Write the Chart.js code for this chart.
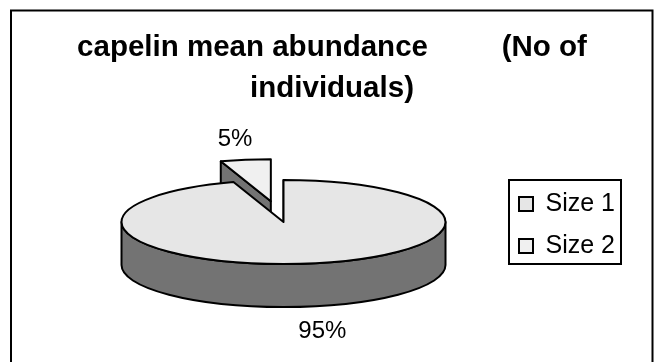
<!DOCTYPE html>
<html>
<head>
<meta charset="utf-8">
<style>
  html, body { margin: 0; padding: 0; background: #fff; }
  #wrap { width: 654px; height: 362px; position: relative; }
</style>
<script src="https://cdn.jsdelivr.net/npm/chart.js@4"></script>
</head>
<body>
<div id="wrap"><canvas id="chart"></canvas></div>
<script>
const categories = ['Size 1', 'Size 2'];
const abundance = [95, 5];
const explode = [0, 0.5];
const sliceColors = ['#e6e6e6', '#f0f0f0'];
const wallColor = '#737373';
const titleLines = ['capelin mean abundance         (No of', 'individuals)'];

// Flattened disc proportions, applied to the arcs Chart.js lays out.
const DISC = { squash: 42 / 162, depth: 43 };
const LABEL_NUDGE = [[13.5, 25], [-10.5, -20]];
const FRAME = { left: 11, top: 10.5, right: 652.5, bottom: 366 };
const LEGEND_BOX = { left: 509, top: 180, width: 112, height: 84 };
const LEGEND_SHIFT = 44;
const FONT = 'Arial, "Liberation Sans", sans-serif';

function sliceGeometry(arc, i) {
  const rx = arc.outerRadius;
  const ry = rx * DISC.squash;
  const mid = (arc.startAngle + arc.endAngle) / 2;
  return {
    rx, ry,
    cx: arc.x + Math.cos(mid) * rx * explode[i],
    cy: arc.y + Math.sin(mid) * ry * explode[i],
    start: arc.startAngle,
    end: arc.endAngle,
    mid
  };
}

function drawWall(ctx, g) {
  // Cut face along the starting edge of the slice.
  const sx = g.cx + Math.cos(g.start) * g.rx;
  const sy = g.cy + Math.sin(g.start) * g.ry;
  ctx.beginPath();
  ctx.moveTo(g.cx, g.cy);
  ctx.lineTo(sx, sy);
  ctx.lineTo(sx, sy + DISC.depth);
  ctx.lineTo(g.cx, g.cy + DISC.depth);
  ctx.closePath();
  ctx.fillStyle = wallColor;
  ctx.fill();
  ctx.stroke();

  // Curved rim, only where it faces the viewer.
  const a = Math.max(g.start, 0);
  const b = Math.min(g.end, Math.PI);
  if (b > a) {
    ctx.beginPath();
    ctx.ellipse(g.cx, g.cy, g.rx, g.ry, 0, a, b);
    ctx.ellipse(g.cx, g.cy + DISC.depth, g.rx, g.ry, 0, b, a, true);
    ctx.closePath();
    ctx.fillStyle = wallColor;
    ctx.fill();
    ctx.stroke();
  }
}

function drawTop(ctx, g, color) {
  ctx.beginPath();
  ctx.moveTo(g.cx, g.cy);
  ctx.ellipse(g.cx, g.cy, g.rx, g.ry, 0, g.start, g.end);
  ctx.closePath();
  ctx.fillStyle = color;
  ctx.fill();
  ctx.stroke();
}

const discPie = {
  id: 'discPie',
  afterLayout(chart) {
    // The title centres on the frame rather than on the padded area.
    const t = chart.titleBlock;
    const dx = 332 - (t.left + t.right) / 2;
    t.left += dx;
    t.right += dx;
    // The legend keys sit inside the framed legend box.
    const l = chart.legend;
    l.left = LEGEND_BOX.left - 7;
    l.top += LEGEND_SHIFT;
    l.bottom += LEGEND_SHIFT;
  },
  beforeDraw(chart) {
    const { ctx } = chart;
    ctx.save();
    ctx.strokeStyle = '#000';
    ctx.lineWidth = 2;
    ctx.strokeRect(FRAME.left, FRAME.top, FRAME.right - FRAME.left, FRAME.bottom - FRAME.top);
    ctx.strokeRect(LEGEND_BOX.left, LEGEND_BOX.top, LEGEND_BOX.width, LEGEND_BOX.height);
    ctx.restore();
  },
  beforeDatasetsDraw(chart) {
    const { ctx } = chart;
    const arcs = chart.getDatasetMeta(0).data;
    const slices = arcs.map(sliceGeometry);
    ctx.save();
    ctx.strokeStyle = '#000';
    ctx.lineWidth = 2;
    ctx.lineJoin = 'round';
    // Back slice first so the large slice overlaps its cut face.
    for (let i = slices.length - 1; i >= 0; i--) {
      drawWall(ctx, slices[i]);
      drawTop(ctx, slices[i], sliceColors[i]);
    }
    ctx.fillStyle = '#000';
    ctx.font = '24px ' + FONT;
    ctx.textAlign = 'center';
    ctx.textBaseline = 'middle';
    const total = abundance.reduce((s, v) => s + v, 0);
    slices.forEach((g, i) => {
      const onBottom = Math.sin(g.mid) > 0;
      const x = g.cx + Math.cos(g.mid) * g.rx + LABEL_NUDGE[i][0];
      const y = g.cy + Math.sin(g.mid) * g.ry + (onBottom ? DISC.depth : 0) + LABEL_NUDGE[i][1];
      ctx.fillText(Math.round(abundance[i] / total * 100) + '%', x, y);
    });
    ctx.restore();
    return false;
  }
};

new Chart(document.getElementById('chart'), {
  type: 'pie',
  data: {
    labels: categories,
    datasets: [{ data: abundance, backgroundColor: sliceColors, borderColor: '#000', borderWidth: 2 }]
  },
  options: {
    responsive: true,
    maintainAspectRatio: false,
    animation: false,
    radius: 162,
    layout: { padding: { left: 54, right: 18, top: 27.5, bottom: 27.5 } },
    plugins: {
      tooltip: { enabled: false },
      title: {
        display: true,
        text: titleLines,
        color: '#000',
        font: { family: FONT, size: 29.5, weight: 'bold', lineHeight: 1.39 },
        padding: { top: 0, bottom: 0 }
      },
      legend: {
        position: 'right',
        labels: {
          color: '#000',
          font: { family: FONT, size: 25 },
          boxWidth: 14,
          boxHeight: 14,
          padding: 17
        }
      }
    }
  },
  plugins: [discPie]
});
</script>
</body>
</html>
